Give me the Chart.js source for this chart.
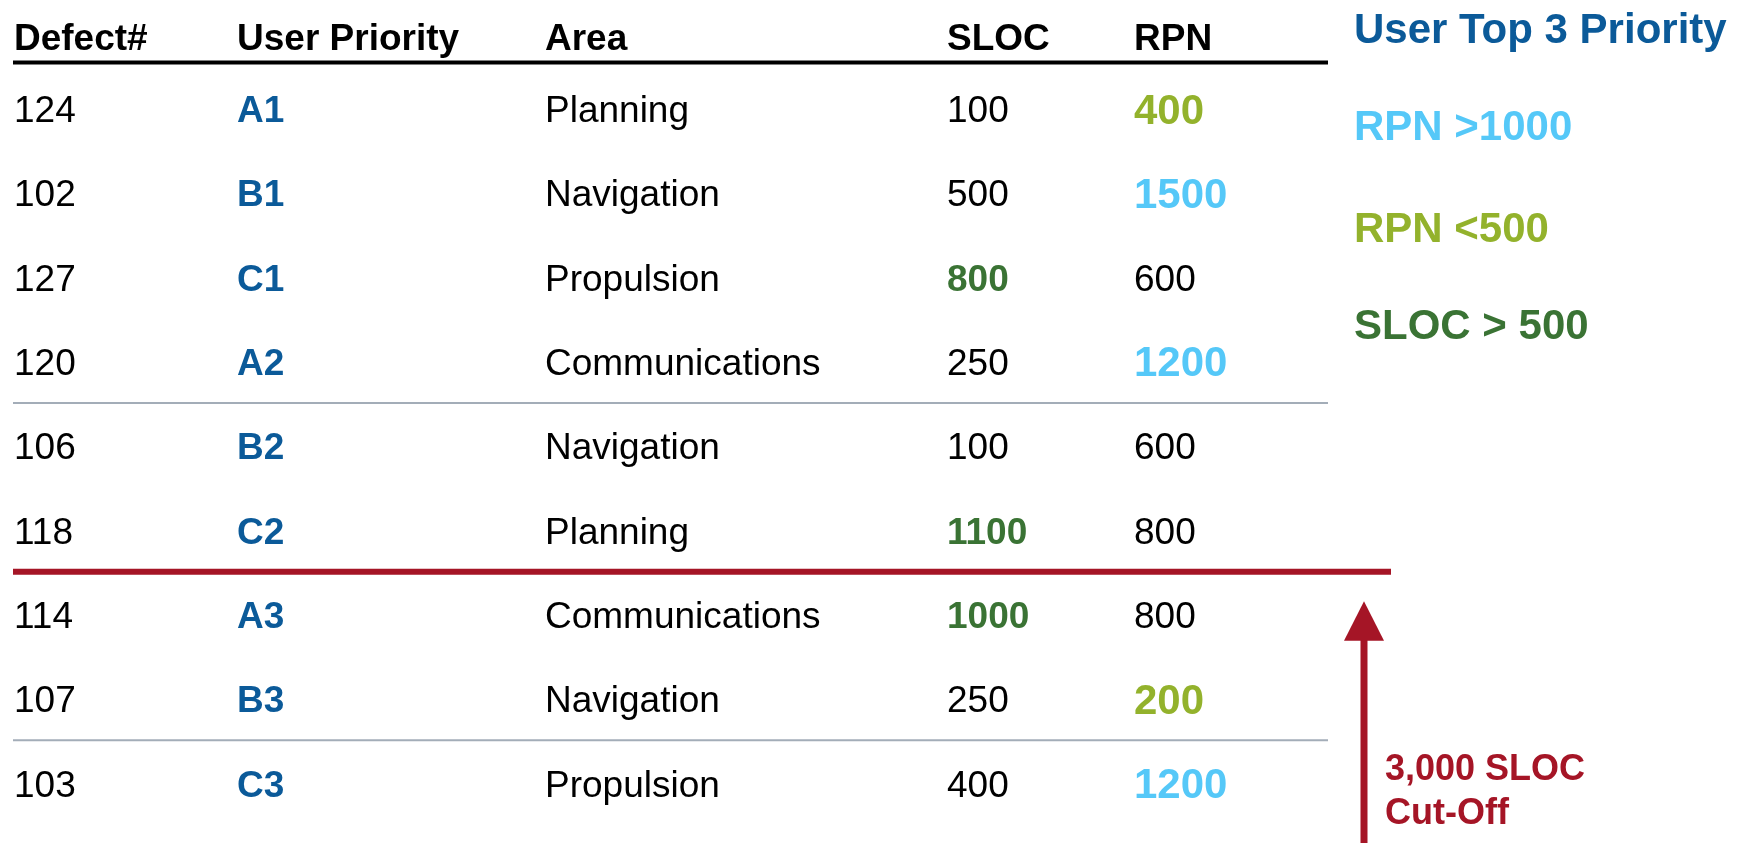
<!DOCTYPE html>
<html>
<head>
<meta charset="utf-8">
<title>Defect priority table</title>
<script src="https://cdn.jsdelivr.net/npm/chart.js@4.4.1/dist/chart.umd.min.js"></script>
<style>
  html, body { margin: 0; padding: 0; background: #ffffff; }
  #wrap { width: 1745px; height: 843px; position: relative; }
</style>
</head>
<body>
<div id="wrap"><canvas id="defectChart"></canvas></div>
<script>
// table content
const headers = ['Defect#', 'User Priority', 'Area', 'SLOC', 'RPN'];
const defects = ['124', '102', '127', '120', '106', '118', '114', '107', '103'];
const priorities = ['A1', 'B1', 'C1', 'A2', 'B2', 'C2', 'A3', 'B3', 'C3'];
const areas = ['Planning', 'Navigation', 'Propulsion', 'Communications', 'Navigation',
               'Planning', 'Communications', 'Navigation', 'Propulsion'];
const sloc = [100, 500, 800, 250, 100, 1100, 1000, 250, 400];
const rpn = [400, 1500, 600, 1200, 600, 800, 800, 200, 1200];
const legendItems = ['User Top 3 Priority', 'RPN >1000', 'RPN <500', 'SLOC > 500'];
const cutoffLabel = ['3,000 SLOC', 'Cut-Off'];

// colours
const BLACK = '#000000';
const BLUE = '#0b5a99';
const SKY = '#55c8f8';
const OLIVE = '#93b22c';
const GREEN = '#3a7334';
const RED = '#a51526';
const GREY = '#a3adb8';

// layout (x in canvas px, y in row units)
const colX = [14, 237, 545, 947, 1134];
const headerRow = 0.14;
const legendX = 1354;
const legendRows = [0.05, 1.2, 2.4, 3.56];
const arrowX = 1364;
const textShift = 4;

const rows = defects.map((d, i) => i + 1);

function rpnColor(v) {
    if (v > 1000) return SKY;
    if (v < 500) return OLIVE;
    return BLACK;
}
function slocColor(v) {
    return v > 500 ? GREEN : BLACK;
}

function textColumn(x, texts, colors, font) {
    return {
        type: 'scatter',
        data: texts.map((t, i) => ({ x: x, y: rows[i] })),
        texts: texts,
        textColors: colors,
        textFont: font,
        pointRadius: 0,
        showLine: false
    };
}

function rule(x1, x2, y, color, width) {
    return {
        type: 'line',
        data: [{ x: x1, y: y }, { x: x2, y: y }],
        borderColor: color,
        borderWidth: width,
        pointRadius: 0,
        borderCapStyle: 'butt'
    };
}

const bodyFont = '37px "Liberation Sans", Arial, sans-serif';
const boldFont = 'bold 37px "Liberation Sans", Arial, sans-serif';
const bigBoldFont = 'bold 42px "Liberation Sans", Arial, sans-serif';
const legendFont = 'bold 42px "Liberation Sans", Arial, sans-serif';

const datasets = [
    rule(13, 1328, 0.46, BLACK, 4),
    rule(13, 1328, 4.5, GREY, 2),
    rule(13, 1328, 8.5, GREY, 2),
    rule(13, 1391, 6.5, RED, 6),
    {
        type: 'scatter',
        data: headers.map((h, i) => ({ x: colX[i], y: headerRow })),
        texts: headers,
        textColors: headers.map(() => BLACK),
        textFont: boldFont,
        pointRadius: 0
    },
    textColumn(colX[0], defects, defects.map(() => BLACK), bodyFont),
    textColumn(colX[1], priorities, priorities.map(() => BLUE), boldFont),
    textColumn(colX[2], areas, areas.map(() => BLACK), bodyFont),
    {
        ...textColumn(colX[3], sloc.map(String), sloc.map(slocColor), bodyFont),
        fontIf: sloc.map(v => v > 500 ? boldFont : null)
    },
    {
        ...textColumn(colX[4], rpn.map(String), rpn.map(rpnColor), bodyFont),
        fontIf: rpn.map(v => (v > 1000 || v < 500) ? bigBoldFont : null)
    },
    {
        type: 'scatter',
        data: legendItems.map((t, i) => ({ x: legendX, y: legendRows[i] })),
        texts: legendItems,
        textColors: [BLUE, SKY, OLIVE, GREEN],
        textFont: legendFont,
        pointRadius: 0
    },
    {
        type: 'scatter',
        data: [{ x: 1385, y: 8.81 }, { x: 1385, y: 9.33 }],
        texts: cutoffLabel,
        textColors: [RED, RED],
        textFont: 'bold 36px "Liberation Sans", Arial, sans-serif',
        pointRadius: 0
    },
    {
        type: 'line',
        data: [{ x: arrowX, y: 9.8 }, { x: arrowX, y: 7.2 }],
        borderColor: RED,
        borderWidth: 7,
        pointRadius: 0,
        borderCapStyle: 'butt'
    }
];

const cellTextPlugin = {
    id: 'cellText',
    afterDatasetsDraw(chart) {
        const ctx = chart.ctx;
        chart.data.datasets.forEach((ds, i) => {
            if (!ds.texts) return;
            const meta = chart.getDatasetMeta(i);
            meta.data.forEach((pt, j) => {
                ctx.save();
                ctx.font = (ds.fontIf && ds.fontIf[j]) ? ds.fontIf[j] : ds.textFont;
                ctx.fillStyle = ds.textColors[j];
                ctx.textAlign = 'left';
                ctx.textBaseline = 'middle';
                ctx.fillText(ds.texts[j], pt.x, pt.y + textShift);
                ctx.restore();
            });
        });
        // arrow head
        const xs = chart.scales.x;
        const ys = chart.scales.y;
        const cx = xs.getPixelForValue(arrowX);
        const top = ys.getPixelForValue(6.85);
        const base = ys.getPixelForValue(7.32);
        ctx.save();
        ctx.fillStyle = RED;
        ctx.beginPath();
        ctx.moveTo(cx, top);
        ctx.lineTo(cx + 20, base);
        ctx.lineTo(cx - 20, base);
        ctx.closePath();
        ctx.fill();
        ctx.restore();
    }
};

new Chart(document.getElementById('defectChart'), {
    type: 'scatter',
    data: { datasets: datasets },
    options: {
        responsive: true,
        maintainAspectRatio: false,
        animation: false,
        layout: { padding: 0 },
        plugins: {
            legend: { display: false },
            tooltip: { enabled: false }
        },
        scales: {
            x: { type: 'linear', display: false, min: 0, max: 1745 },
            y: { type: 'linear', display: false, reverse: true, min: -0.281, max: 9.719 }
        }
    },
    plugins: [cellTextPlugin]
});
</script>
</body>
</html>
